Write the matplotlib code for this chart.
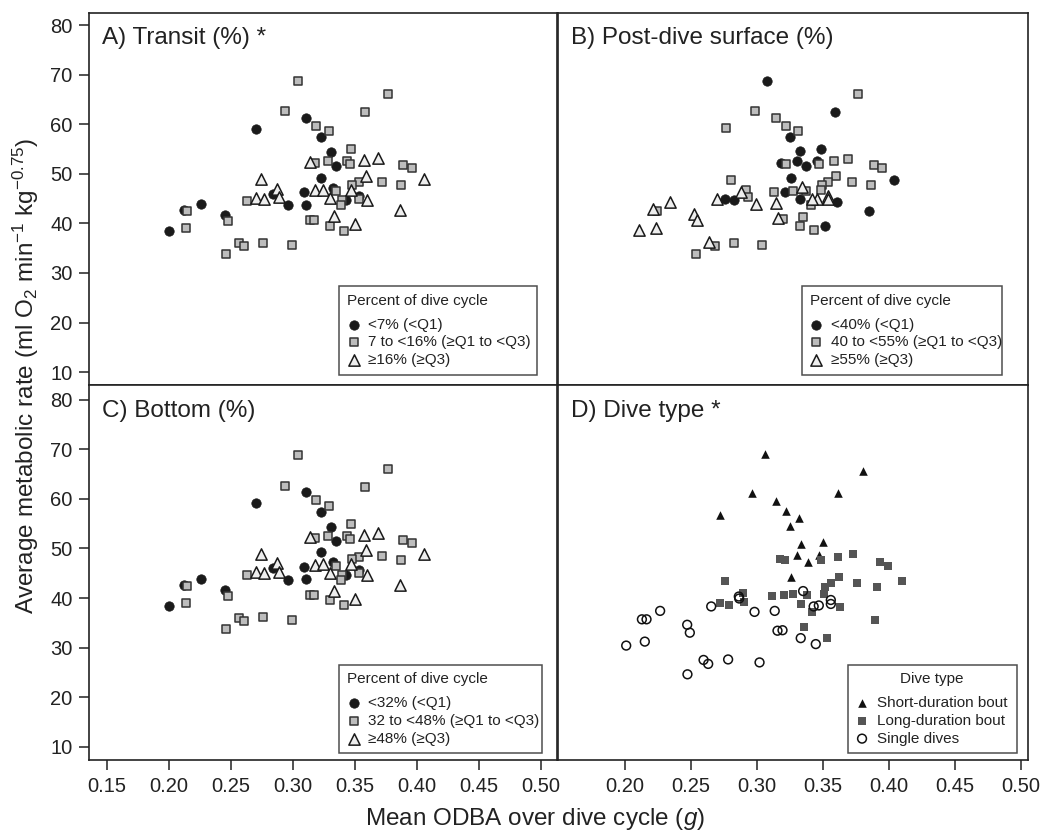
import matplotlib
matplotlib.use("Agg")
import matplotlib.pyplot as plt

plt.rcParams["font.family"] = ["Liberation Sans", "DejaVu Sans"]
plt.rcParams["mathtext.fontset"] = "custom"
plt.rcParams["mathtext.rm"] = "Liberation Sans"
plt.rcParams["mathtext.it"] = "Liberation Sans:italic"
plt.rcParams["text.color"] = "#222222"

# --- datos: paneles A y C (mismos puntos, mismas clases) ---
a_lo_x = [0.200, 0.212, 0.226, 0.245, 0.270, 0.284, 0.296, 0.309, 0.311, 0.311,
          0.323, 0.331, 0.335, 0.323, 0.332, 0.343, 0.353]
a_lo_y = [38.4, 42.6, 43.9, 41.7, 59.1, 46.0, 43.7, 46.3, 43.8, 61.3,
          57.4, 54.4, 51.5, 49.2, 47.2, 44.7, 45.6]
a_mid_x = [0.214, 0.215, 0.246, 0.248, 0.257, 0.261, 0.276, 0.263, 0.299, 0.294,
           0.304, 0.319, 0.329, 0.377, 0.358, 0.347, 0.318, 0.328, 0.344, 0.346,
           0.389, 0.396, 0.372, 0.387, 0.353, 0.348, 0.335, 0.353, 0.340, 0.339,
           0.314, 0.317, 0.330, 0.341]
a_mid_y = [39.0, 42.5, 33.8, 40.4, 36.0, 35.4, 36.1, 44.6, 35.6, 62.6,
           68.8, 59.7, 58.6, 66.0, 62.5, 54.9, 52.1, 52.6, 52.6, 52.0,
           51.7, 51.1, 48.4, 47.7, 48.3, 47.8, 46.5, 45.0, 44.7, 43.7,
           40.7, 40.7, 39.5, 38.5]
a_hi_x = [0.274, 0.287, 0.270, 0.277, 0.289, 0.314, 0.357, 0.369, 0.359, 0.318,
          0.324, 0.330, 0.347, 0.360, 0.333, 0.350, 0.386, 0.406]
a_hi_y = [48.9, 47.0, 45.2, 45.0, 45.3, 52.4, 52.8, 53.2, 49.6, 46.7,
          46.8, 45.1, 46.8, 44.7, 41.5, 39.8, 42.6, 48.9]

# --- panel B ---
b_lo_x = [0.3077, 0.359, 0.3254, 0.333, 0.3485, 0.318, 0.3302, 0.3375, 0.3456, 0.326,
          0.321, 0.333, 0.3608, 0.404, 0.385, 0.3514, 0.2762, 0.2825]
b_lo_y = [68.8, 62.5, 57.4, 54.5, 54.9, 52.1, 52.5, 51.5, 52.5, 49.2,
          46.4, 44.9, 44.4, 48.7, 42.4, 39.5, 44.9, 44.7]
b_mid_x = [0.3766, 0.2987, 0.2765, 0.3146, 0.3222, 0.3313, 0.3217, 0.3473, 0.3585, 0.3691,
           0.3884, 0.3945, 0.3600, 0.3540, 0.3495, 0.3724, 0.3862, 0.2802, 0.2921, 0.2934,
           0.3126, 0.3274, 0.3375, 0.3489, 0.3408, 0.2245, 0.3200, 0.3348, 0.3329, 0.3430,
           0.2682, 0.2824, 0.3037, 0.2538]
b_mid_y = [66.0, 62.6, 59.2, 61.3, 59.7, 58.6, 52.0, 52.0, 52.6, 53.0,
           51.7, 51.1, 49.5, 48.3, 47.8, 48.4, 47.7, 48.75, 46.8, 45.3,
           46.3, 46.5, 46.5, 46.7, 43.7, 42.5, 40.8, 41.35, 39.5, 38.6,
           35.35, 36.1, 35.7, 33.8]
b_hi_x = [0.2106, 0.2212, 0.2343, 0.2527, 0.2883, 0.2997, 0.3143, 0.334, 0.3459, 0.354,
          0.2237, 0.255, 0.2638, 0.2699, 0.3536, 0.3418, 0.3161]
b_hi_y = [38.7, 42.9, 44.25, 41.8, 46.3, 44.0, 44.2, 47.3, 45.0, 45.5,
          39.1, 40.7, 36.2, 44.9, 45.0, 44.85, 41.0]

# --- panel D (tipo de buceo) ---
d_short_x = [0.306, 0.3807, 0.2964, 0.3612, 0.3141, 0.3221, 0.3317, 0.2722, 0.3254, 0.3335,
             0.3501, 0.3307, 0.3471, 0.3385, 0.3259]
d_short_y = [69.1, 65.6, 61.2, 61.2, 59.5, 57.5, 56.2, 56.8, 54.6, 50.9,
             51.4, 48.6, 48.6, 47.2, 44.3]
d_long_x = [0.3173, 0.3211, 0.3489, 0.3612, 0.3726, 0.3933, 0.3996, 0.2762, 0.3625, 0.3562,
            0.3519, 0.3761, 0.391, 0.41, 0.2891, 0.3113, 0.3204, 0.3274, 0.3383, 0.3509,
            0.2722, 0.2785, 0.2906, 0.3332, 0.3418, 0.3633, 0.3893, 0.3355, 0.3532]
d_long_y = [47.9, 47.7, 47.7, 48.3, 48.9, 47.2, 46.5, 43.5, 44.3, 43.0,
            42.3, 43.1, 42.3, 43.5, 41.0, 40.4, 40.7, 40.8, 40.7, 40.9,
            38.9, 38.6, 39.1, 38.7, 37.1, 38.1, 35.6, 34.2, 32.0]
d_single_x = [0.201, 0.2151, 0.2129, 0.2164, 0.2267, 0.2472, 0.2492, 0.2474, 0.2596, 0.2631,
              0.2782, 0.302, 0.2654, 0.2863, 0.2866, 0.2982, 0.3135, 0.3156, 0.3194, 0.3332,
              0.3446, 0.335, 0.343, 0.3469, 0.356, 0.356]
d_single_y = [30.4, 31.2, 35.7, 35.7, 37.4, 34.6, 33.0, 24.6, 27.5, 26.7,
              27.6, 27.0, 38.3, 40.3, 39.9, 37.2, 37.4, 33.4, 33.5, 31.9,
              30.7, 41.4, 38.3, 38.5, 39.6, 38.8]

titles = ["A) Transit (%) *", "B) Post-dive surface (%)", "C) Bottom (%)", "D) Dive type *"]
leg_a = ["<7% (<Q1)", "7 to <16% (\u2265Q1 to <Q3)", "\u226516% (\u2265Q3)"]
leg_b = ["<40% (<Q1)", "40 to <55% (\u2265Q1 to <Q3)", "\u226555% (\u2265Q3)"]
leg_c = ["<32% (<Q1)", "32 to <48% (\u2265Q1 to <Q3)", "\u226548% (\u2265Q3)"]
leg_d = ["Short-duration bout", "Long-duration bout", "Single dives"]

ink = "#222222"

fig = plt.figure(figsize=(10.5, 8.34), dpi=100)
ax_a = fig.add_axes([0.085, 0.5384, 0.4457, 0.4464])
ax_b = fig.add_axes([0.531, 0.5384, 0.4476, 0.4464])
ax_c = fig.add_axes([0.085, 0.0887, 0.4457, 0.4497])
ax_d = fig.add_axes([0.531, 0.0887, 0.4476, 0.4497])


def quartile_panel(ax, lo, mid, hi, labels):
    ax.scatter(lo[0], lo[1], s=46, marker="o", color="#1a1a1a", edgecolors="#1a1a1a",
               linewidths=0.5, label=labels[0], zorder=3)
    ax.scatter(mid[0], mid[1], s=32, marker="s", color="#bdbdbd", edgecolors="#333333",
               linewidths=1.1, label=labels[1], zorder=3)
    ax.scatter(hi[0], hi[1], s=66, marker="^", color="#eeeeee", edgecolors="#1a1a1a",
               linewidths=1.1, label=labels[2], zorder=3)


quartile_panel(ax_a, (a_lo_x, a_lo_y), (a_mid_x, a_mid_y), (a_hi_x, a_hi_y), leg_a)
quartile_panel(ax_b, (b_lo_x, b_lo_y), (b_mid_x, b_mid_y), (b_hi_x, b_hi_y), leg_b)
# panel C usa los mismos puntos que A
quartile_panel(ax_c, (a_lo_x, a_lo_y), (a_mid_x, a_mid_y), (a_hi_x, a_hi_y), leg_c)

ax_d.scatter(d_short_x, d_short_y, s=38, marker="^", color="#111111", linewidths=0,
             label=leg_d[0], zorder=3)
ax_d.scatter(d_long_x, d_long_y, s=28, marker="s", color="#555555", linewidths=0,
             label=leg_d[1], zorder=3)
ax_d.scatter(d_single_x, d_single_y, s=40, marker="o", facecolors="none",
             edgecolors="#111111", linewidths=1.1, label=leg_d[2], zorder=3)

yticks = [10, 20, 30, 40, 50, 60, 70, 80]
xt_left = [0.15, 0.20, 0.25, 0.30, 0.35, 0.40, 0.45, 0.50]
xt_right = [0.20, 0.25, 0.30, 0.35, 0.40, 0.45, 0.50]

for ax, title in zip([ax_a, ax_b, ax_c, ax_d], titles):
    for sp in ax.spines.values():
        sp.set_linewidth(1.2)
        sp.set_color(ink)
    ax.tick_params(direction="out", length=7, width=1.1, colors=ink,
                   labelsize=14.5, pad=5)
    ax.text(0.028, 0.915, title, transform=ax.transAxes, fontsize=17.5,
            va="baseline", ha="left", color=ink)

for ax in [ax_a, ax_b]:
    ax.set_ylim(7.4, 82.5)
for ax in [ax_c, ax_d]:
    ax.set_ylim(7.3, 83.0)
for ax in [ax_a, ax_c]:
    ax.set_xlim(0.136, 0.513)
    ax.set_yticks(yticks)
    ax.set_xticks(xt_left)
for ax in [ax_b, ax_d]:
    ax.set_xlim(0.149, 0.505)
    ax.set_yticks([])
    ax.set_xticks(xt_right)

for ax in [ax_a, ax_b]:
    ax.tick_params(axis="x", bottom=False, labelbottom=False)
for ax in [ax_c, ax_d]:
    ax.set_xticklabels([f"{v:.2f}" for v in ax.get_xticks()])


def box_legend(ax, anchor, title, align):
    leg = ax.legend(loc="lower left", bbox_to_anchor=anchor, mode="expand",
                    title=title, fontsize=11, title_fontsize=11, frameon=True,
                    fancybox=False, edgecolor=ink, scatterpoints=1,
                    handlelength=0.9, handletextpad=0.5, labelspacing=0.25,
                    borderpad=0.5, borderaxespad=0, alignment=align)
    leg.get_frame().set_linewidth(1.1)
    # hueco extra entre el titulo y las entradas
    leg._legend_box.sep = 7
    return leg


box_legend(ax_a, (0.534, 0.027, 0.422, 0.242), "Percent of dive cycle", "left")
box_legend(ax_b, (0.520, 0.027, 0.426, 0.242), "Percent of dive cycle", "left")
box_legend(ax_c, (0.534, 0.018, 0.433, 0.242), "Percent of dive cycle", "left")
box_legend(ax_d, (0.617, 0.018, 0.360, 0.242), "Dive type", "center")

fig.text(0.025, 0.55,
         "Average metabolic rate (ml O$_2$ min$^{-1}$ kg$^{-0.75}$)",
         rotation=90, ha="center", va="center", fontsize=17.5, color=ink)
fig.text(0.51, 0.011, "Mean ODBA over dive cycle ($g$)", ha="center",
         va="baseline", fontsize=17.5, color=ink)

fig.savefig("out.png", dpi=100)
